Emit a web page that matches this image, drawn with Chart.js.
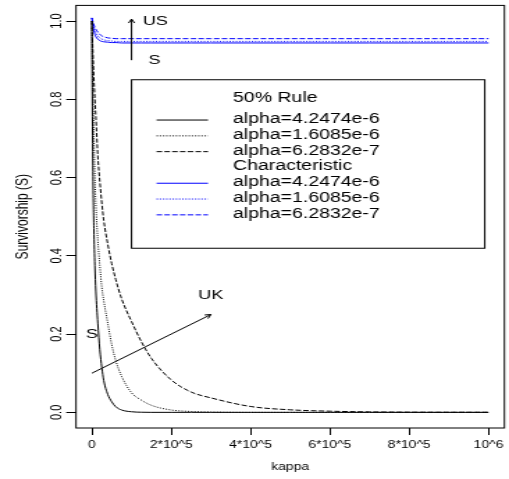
<!DOCTYPE html>
<html>
<head>
<meta charset="utf-8">
<script src="https://cdn.jsdelivr.net/npm/chart.js@4.4.0/dist/chart.umd.min.js"></script>
<style>
  html, body { margin: 0; padding: 0; background: #fff; }
  #plot { width: 509px !important; height: 479px !important; display: block; }
</style>
</head>
<body>
<canvas id="plot" width="366" height="479" style="width:509px;height:479px"></canvas>
<script>
'use strict'
// the reference is an R plot stretched sideways, so draw narrow and let css widen it

const kappa = [0, 1000, 2500, 5000, 7500, 10000, 15000, 20000, 25000, 30000, 40000, 50000, 60000, 75000,
    100000, 125000, 150000, 200000, 250000, 300000, 400000, 500000, 600000, 700000, 800000, 1000000];

// 50% rule
const ruleA = [1.0, 0.81, 0.63, 0.47, 0.375, 0.31, 0.228, 0.16, 0.115, 0.081, 0.046, 0.027, 0.0145, 0.006,
    0.0015, 0.0003, 0, 0, 0, 0, 0, 0, 0, 0, 0, 0];
const ruleB = [1.0, 0.918, 0.82, 0.705, 0.6, 0.53, 0.44, 0.375, 0.32, 0.285, 0.228, 0.173, 0.133, 0.092,
    0.05, 0.031, 0.018, 0.006, 0.0022, 0.0008, 0, 0, 0, 0, 0, 0];
const ruleC = [1.0, 0.965, 0.92, 0.855, 0.8, 0.755, 0.655, 0.59, 0.535, 0.49, 0.43, 0.38, 0.34, 0.29,
    0.232, 0.18, 0.138, 0.083, 0.052, 0.037, 0.015, 0.0065, 0.003, 0.0012, 0.0005, 0.0002];

// characteristic
const charA = [1.008, 1.0, 0.99, 0.975, 0.966, 0.96, 0.954, 0.95, 0.948, 0.947, 0.946, 0.945, 0.945, 0.944,
    0.944, 0.944, 0.944, 0.944, 0.944, 0.944, 0.944, 0.944, 0.944, 0.944, 0.944, 0.944];
const charB = [1.008, 1.002, 0.995, 0.984, 0.976, 0.97, 0.962, 0.957, 0.954, 0.952, 0.95, 0.949, 0.948, 0.948,
    0.948, 0.948, 0.948, 0.948, 0.948, 0.948, 0.948, 0.948, 0.948, 0.948, 0.948, 0.948];
const charC = [1.008, 1.004, 0.998, 0.99, 0.984, 0.979, 0.972, 0.966, 0.962, 0.96, 0.957, 0.956, 0.955, 0.955,
    0.955, 0.955, 0.955, 0.955, 0.955, 0.955, 0.955, 0.955, 0.955, 0.955, 0.955, 0.955];

const xTicks = [0, 200000, 400000, 600000, 800000, 1000000];
const xTickLabels = ['0', '2*10^5', '4*10^5', '6*10^5', '8*10^5', '10^6'];
const yTicks = [0, 0.2, 0.4, 0.6, 0.8, 1.0];
const yTickLabels = ['0.0', '0.2', '0.4', '0.6', '0.8', '1.0'];

const legendTitle = '50% Rule';
const legendLabels = ['alpha=4.2474e-6', 'alpha=1.6085e-6', 'alpha=6.2832e-7', 'Characteristic',
    'alpha=4.2474e-6', 'alpha=1.6085e-6', 'alpha=6.2832e-7'];

// text and arrows written on the plot (data coords)
const noteText = ['US', 'S', 'S', 'UK'];
const noteX = [160000, 158000, 0, 300000];
const noteY = [1.0, 0.9, 0.2, 0.3];
const arrowFrom = [[100000, 0.9], [0, 0.1]];
const arrowTo = [[100000, 1.005], [300000, 0.25]];

const FONT = '"Liberation Sans", Arial, Helvetica, sans-serif';
Chart.defaults.font.family = FONT;
Chart.defaults.color = '#000';

const dots = [1, 1.3];
const dashes = [4, 1.6];
const BLUE = '#0000ff';

const series = [
    {data: ruleA, color: '#000', dash: []},
    {data: ruleB, color: '#000', dash: dots},
    {data: ruleC, color: '#000', dash: dashes},
    {data: charA, color: BLUE, dash: []},
    {data: charB, color: BLUE, dash: dots},
    {data: charC, color: BLUE, dash: dashes}
];
// legend rows -> series index (null = text only)
const legendSeries = [0, 1, 2, null, 3, 4, 5];

function arrow(ctx, x0, y0, x1, y1) {
    ctx.beginPath();
    ctx.moveTo(x0, y0);
    ctx.lineTo(x1, y1);
    ctx.stroke();
    const a = Math.atan2(y1 - y0, x1 - x0), h = 4.5;
    ctx.beginPath();
    ctx.moveTo(x1 - h * Math.cos(a - 0.5), y1 - h * Math.sin(a - 0.5));
    ctx.lineTo(x1, y1);
    ctx.lineTo(x1 - h * Math.cos(a + 0.5), y1 - h * Math.sin(a + 0.5));
    ctx.stroke();
}

const decor = {
    id: 'decor',
    afterDraw(chart) {
        const {ctx, chartArea: area, scales: {x, y}} = chart;
        ctx.save();
        ctx.strokeStyle = '#000';
        ctx.lineWidth = 1;
        ctx.setLineDash([]);
        ctx.strokeRect(area.left, area.top, area.right - area.left, area.bottom - area.top);

        for (let i = 0; i < arrowFrom.length; i++) {
            arrow(ctx, x.getPixelForValue(arrowFrom[i][0]), y.getPixelForValue(arrowFrom[i][1]),
                x.getPixelForValue(arrowTo[i][0]), y.getPixelForValue(arrowTo[i][1]));
        }
        ctx.fillStyle = '#000';
        ctx.textAlign = 'center';
        ctx.textBaseline = 'middle';
        ctx.font = '13px ' + FONT;
        noteText.forEach((t, i) => ctx.fillText(t, x.getPixelForValue(noteX[i]), y.getPixelForValue(noteY[i])));

        // legend box, top-left anchored at (1e5, 0.85)
        const bx = x.getPixelForValue(100000), by = y.getPixelForValue(0.85);
        ctx.fillStyle = '#fff';
        ctx.fillRect(bx, by, 254, 168.5);
        ctx.strokeRect(bx, by, 254, 168.5);
        ctx.fillStyle = '#000';
        ctx.textAlign = 'left';
        ctx.font = '14px ' + FONT;
        ctx.fillText(legendTitle, bx + 73, by + 18.3);
        legendLabels.forEach((t, i) => {
            const ry = by + 39.3 + i * 15.8;
            ctx.fillText(t, bx + 73, ry);
            const k = legendSeries[i];
            if (k === null) return;
            ctx.strokeStyle = series[k].color;
            ctx.setLineDash(series[k].dash);
            ctx.beginPath();
            ctx.moveTo(bx + 18, ry + 1);
            ctx.lineTo(bx + 55, ry + 1);
            ctx.stroke();
        });
        ctx.restore();
    }
};

new Chart(document.getElementById('plot'), {
    type: 'line',
    data: {
        datasets: series.map(s => ({
            data: kappa.map((k, i) => ({x: k, y: s.data[i]})),
            borderColor: s.color,
            borderDash: s.dash,
            borderWidth: 1,
            pointRadius: 0,
            fill: false,
            cubicInterpolationMode: 'monotone'
        }))
    },
    options: {
        responsive: false,
        animation: false,
        devicePixelRatio: 1,
        layout: {padding: {top: 5, right: 0.7, left: 0, bottom: 0}},
        plugins: {legend: {display: false}, tooltip: {enabled: false}},
        scales: {
            x: {
                type: 'linear',
                min: -40000,
                max: 1040000,
                afterBuildTicks: s => { s.ticks = xTicks.map(v => ({value: v})); },
                afterFit: s => { s.height = 51; },
                grid: {drawOnChartArea: false, tickLength: 7, color: '#000'},
                border: {display: false},
                ticks: {
                    font: {size: 10}, padding: 4, maxRotation: 0, autoSkip: false,
                    callback: (v, i) => xTickLabels[i]
                },
                title: {display: true, text: 'kappa', font: {size: 10}, padding: {top: 0, bottom: 6}}
            },
            y: {
                min: -0.04,
                max: 1.04,
                afterBuildTicks: s => { s.ticks = yTicks.map(v => ({value: v})); },
                afterFit: s => { s.width = 54.65; },
                grid: {drawOnChartArea: false, tickLength: 7, color: '#000'},
                border: {display: false},
                ticks: {
                    font: {size: 11}, padding: -1.2, minRotation: 90, maxRotation: 90, crossAlign: 'center',
                    autoSkip: false, callback: (v, i) => yTickLabels[i]
                },
                title: {display: true, text: 'Survivorship (S)', font: {size: 12}, padding: {top: 9.3, bottom: 0}}
            }
        }
    },
    plugins: [decor]
});
</script>
</body>
</html>
